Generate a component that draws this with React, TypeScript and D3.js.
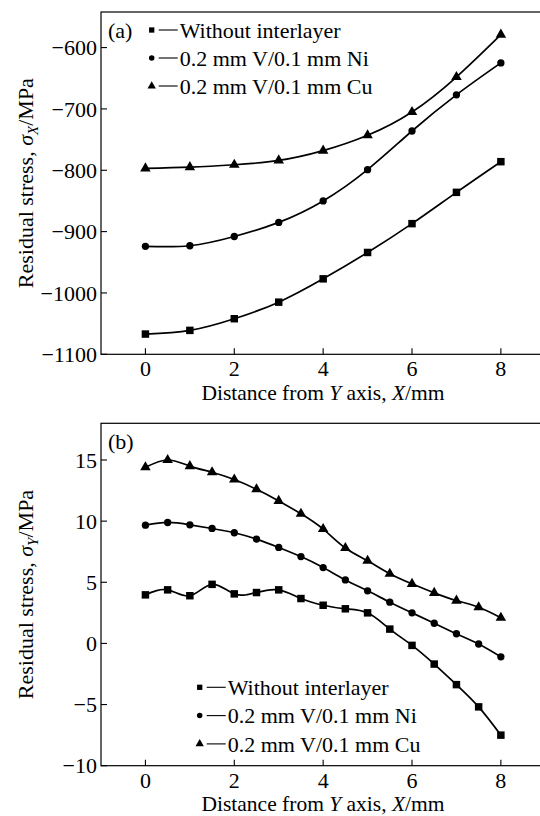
import React from 'react';
import * as d3 from 'd3';

// ---------- data ----------
const xTicks = [0, 2, 4, 6, 8];

const aX = [0, 1, 2, 3, 4, 5, 6, 7, 8];
const aWithout = [-1067, -1061, -1042, -1015, -977, -934, -887, -836, -786];
const aNi = [-924, -923, -908, -885, -850, -799, -736, -677, -625];
const aCu = [-797, -795, -791, -784, -768, -743, -705, -648, -579];
const aYTicks = [-1100, -1000, -900, -800, -700, -600];

const bX = [0, 0.5, 1, 1.5, 2, 2.5, 3, 3.5, 4, 4.5, 5, 5.5, 6, 6.5, 7, 7.5, 8];
const bWithout = [3.97, 4.38, 3.9, 4.83, 4.05, 4.16, 4.38, 3.67, 3.12, 2.83, 2.5, 1.17, -0.16, -1.69, -3.37, -5.19, -7.5];
const bNi = [9.67, 9.89, 9.7, 9.4, 9.05, 8.53, 7.85, 7.1, 6.2, 5.19, 4.3, 3.37, 2.5, 1.65, 0.79, -0.05, -1.1];
const bCu = [14.4, 15.0, 14.5, 14.0, 13.4, 12.6, 11.65, 10.6, 9.35, 7.8, 6.76, 5.7, 4.87, 4.13, 3.5, 2.96, 2.1];
const bYTicks = [-10, -5, 0, 5, 10, 15];

const seriesNames = ['Without interlayer', '0.2 mm V/0.1 mm Ni', '0.2 mm V/0.1 mm Cu'];
const symbols = [d3.symbolSquare, d3.symbolCircle, d3.symbolTriangle];

const FONT = '"Liberation Serif", "Times New Roman", serif';
const FS = 22;

const fmt = (v: number) => (v < 0 ? '\u2212' + Math.abs(v) : String(v));

type PanelProps = {
  top: number;
  bottom: number;
  yDomain: [number, number];
  yTicks: number[];
  xs: number[];
  series: number[][];
  label: string;
  sub: string;
  titleDy: number;
  legend: { x: number; y: number; dy: number };
};

function Panel({ top, bottom, yDomain, yTicks, xs, series, label, sub, titleDy, legend }: PanelProps) {
  const left = 101;
  const right = 545.3;
  const x = d3.scaleLinear().domain([-1, 9]).range([left, right]);
  const y = d3.scaleLinear().domain(yDomain).range([bottom, top]);
  const line = d3
    .line<number>()
    .x((_, i) => x(xs[i]))
    .y((d) => y(d))
    .curve(d3.curveNatural);
  const markSizes = [56, 42, 48];
  const legSizes = [28, 24, 30];
  const midY = (top + bottom) / 2;
  return (
    <g fontFamily={FONT} fontSize={FS} fill="#000">
      <rect x={left} y={top} width={right - left} height={bottom - top} fill="none" stroke="#000" strokeWidth={1.2} />
      {xTicks.map((t) => (
        <g key={'xt' + t}>
          <line x1={x(t)} x2={x(t)} y1={bottom} y2={bottom - 6} stroke="#000" strokeWidth={1.1} />
          <text x={x(t)} y={bottom + 22} textAnchor="middle">{fmt(t)}</text>
        </g>
      ))}
      {yTicks.map((t) => (
        <g key={'yt' + t}>
          <line x1={left} x2={left + 6} y1={y(t)} y2={y(t)} stroke="#000" strokeWidth={1.1} />
          <text x={left - 4} y={y(t)} dy="0.35em" textAnchor="end">{fmt(t)}</text>
        </g>
      ))}
      <text x={323} y={bottom + titleDy} textAnchor="middle" fontSize={21.5}>
        Distance from <tspan fontStyle="italic">Y</tspan> axis, <tspan fontStyle="italic">X</tspan>/mm
      </text>
      <text transform={`translate(33,${midY}) rotate(-90)`} textAnchor="middle">
        Residual stress, <tspan fontStyle="italic">σ</tspan>
        <tspan fontStyle="italic" fontSize={15} dy={5}>{sub}</tspan>
        <tspan dy={-5}>/MPa</tspan>
      </text>
      <text x={108} y={top + 26}>{label}</text>
      {series.map((s, k) => (
        <path key={'l' + k} d={line(s) || ''} fill="none" stroke="#000" strokeWidth={1.7} />
      ))}
      {series.map((s, k) =>
        s.map((v, i) => (
          <path
            key={'m' + k + '_' + i}
            d={d3.symbol().type(symbols[k]).size(markSizes[k])() || ''}
            transform={`translate(${x(xs[i])},${y(v)})`}
            fill="#000"
          />
        ))
      )}
      {seriesNames.map((n, k) => {
        const ly = legend.y + k * legend.dy;
        return (
          <g key={'lg' + k}>
            <path d={d3.symbol().type(symbols[k]).size(legSizes[k])() || ''} transform={`translate(${legend.x},${ly})`} fill="#000" />
            <line x1={legend.x + 7} x2={legend.x + 26} y1={ly} y2={ly} stroke="#000" strokeWidth={1.1} />
            <text x={legend.x + 28} y={ly} dy="0.35em">{n}</text>
          </g>
        );
      })}
    </g>
  );
}

export default function App() {
  return (
    <svg width={540} height={816} style={{ position: 'absolute', left: 0, top: 0, background: '#fff' }}>
      <rect width={540} height={816} fill="#fff" />
      <Panel
        top={12}
        bottom={354.3}
        yDomain={[-1100, -542]}
        yTicks={aYTicks}
        xs={aX}
        series={[aWithout, aNi, aCu]}
        label="(a)"
        sub="X"
        titleDy={46}
        legend={{ x: 151.7, y: 30, dy: 28 }}
      />
      <Panel
        top={423.3}
        bottom={765.7}
        yDomain={[-10, 18]}
        yTicks={bYTicks}
        xs={bX}
        series={[bWithout, bNi, bCu]}
        label="(b)"
        sub="Y"
        titleDy={45}
        legend={{ x: 199.7, y: 687.3, dy: 28.3 }}
      />
    </svg>
  );
}
